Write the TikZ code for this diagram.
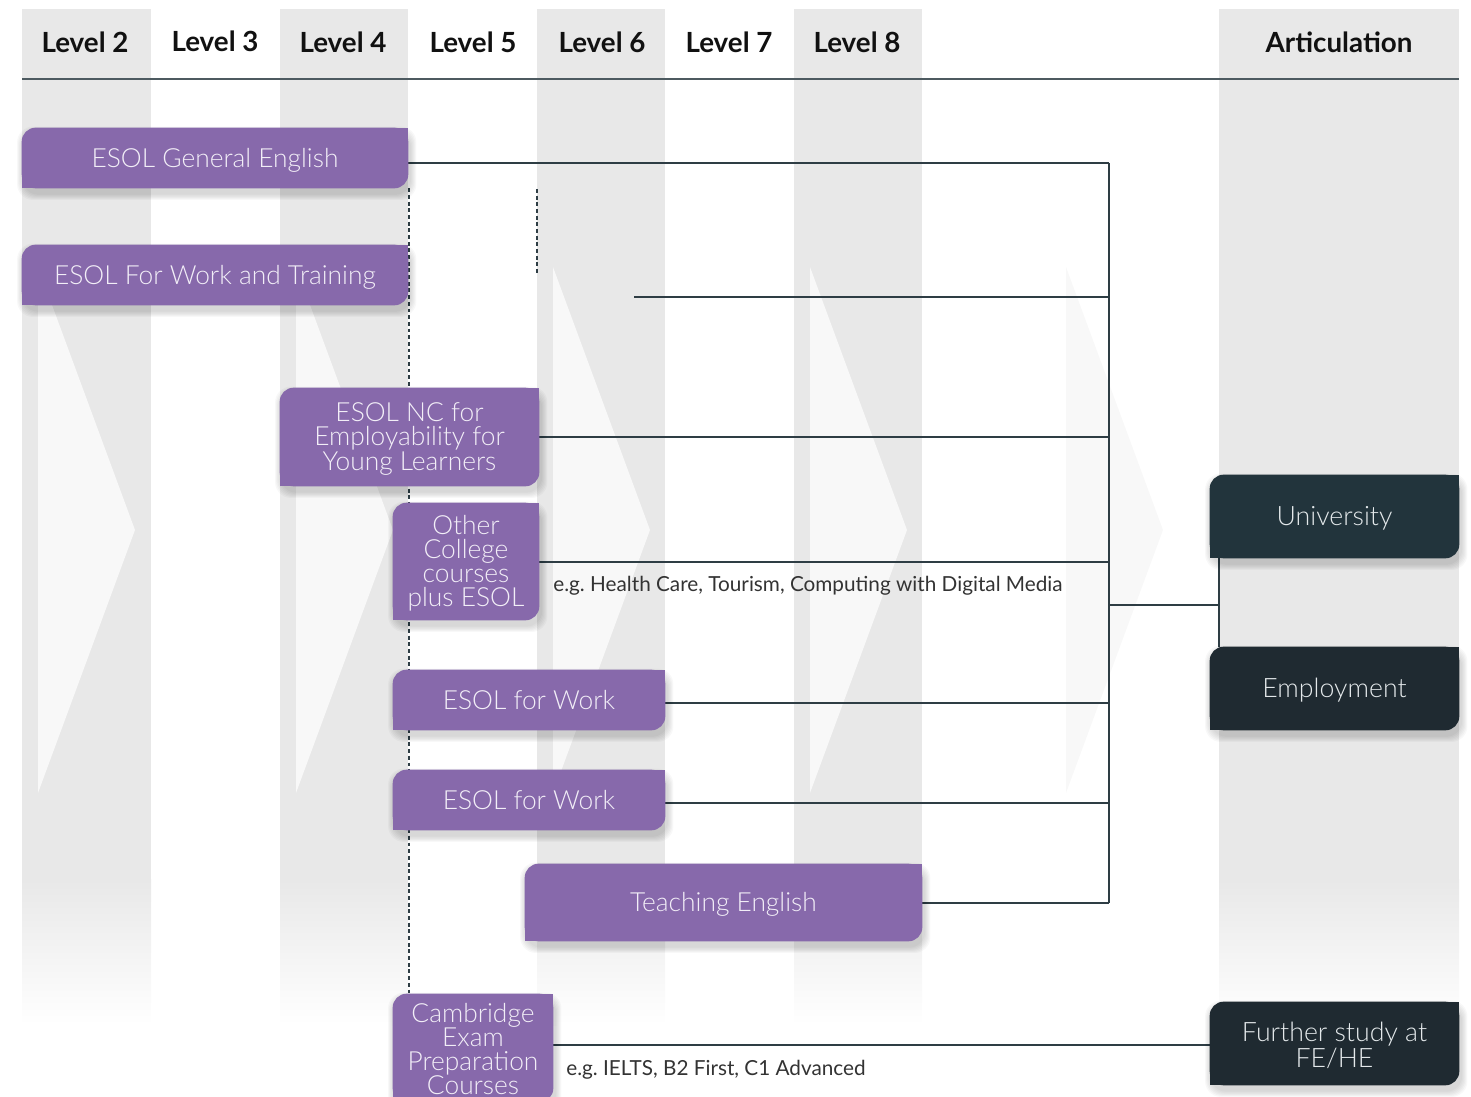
\documentclass[tikz,border=0pt]{standalone}
\usepackage{fontspec}
\setmainfont{Lato}
\newfontfamily\lightf{Lato Light}
\definecolor{purp}{HTML}{8769AB}
\definecolor{darkA}{HTML}{22343C}
\definecolor{darkB}{HTML}{1F2A31}
\definecolor{colgrey}{HTML}{E8E8E8}
\definecolor{chev}{HTML}{F8F8F8}
\definecolor{linec}{HTML}{2E3D44}
\definecolor{boxtxt}{HTML}{F2EEF7}
\definecolor{dboxtxt}{HTML}{E4E9EB}
\definecolor{hdrtxt}{HTML}{111111}
\definecolor{lbltxt}{HTML}{333333}
\pgfdeclarelayer{bg}
\pgfdeclarelayer{lines}
\pgfdeclarelayer{boxes}
\pgfsetlayers{bg,lines,boxes,main}
\newcommand\drawcbox[3][0pt]{%
  \foreach \s in {1,...,6}{\fill[black,opacity=0.028,rounded corners=9pt] ([shift={(-\s*0.6pt+1pt,\s*0.6pt-3pt+#1)}]#2.north west) rectangle ([shift={(\s*0.6pt+1pt,-\s*0.6pt-3pt+#1)}]#2.south east);}
  \fill[#3,rounded corners=8pt] ([yshift=#1]#2.north west) rectangle ([yshift=#1]#2.south east);
  \fill[#3] ([yshift=#1]#2.north east) rectangle ([xshift=-9pt,yshift=#1-9pt]#2.north east);
  \fill[#3] ([yshift=#1]#2.south west) rectangle ([xshift=9pt,yshift=#1+9pt]#2.south west);
}
\begin{document}
\frenchspacing
\begin{tikzpicture}[x=0.02cm,y=-0.02cm,
  hdr/.style={inner sep=0pt,text=hdrtxt,font=\fontsize{15.8}{18}\selectfont\bfseries},
  pbox/.style={inner sep=0pt,align=center,text=boxtxt,font=\lightf\fontsize{15}{13.7}\selectfont},
  onel/.style={text height=10.75pt,text depth=0pt},
  dbox/.style={pbox,text=dboxtxt,font=\lightf\fontsize{15.2}{13.7}\selectfont},
  lbl/.style={inner sep=0pt,anchor=base west,text=lbltxt,font=\fontsize{11.8}{13}\selectfont},
  conn/.style={draw=linec,line width=1.1pt},
  dashline/.style={draw=linec,line width=1.2pt,dash pattern=on 2.2pt off 1.6pt}]
\useasboundingbox (0,0) rectangle (1471,1097);

% ---------- background columns ----------
\begin{pgfonlayer}{bg}
\foreach \xa/\xb in {22/151,280/408,537/665,794/922,1219/1459}{
  \fill[colgrey] (\xa,9) rectangle (\xb,880);
  \shade[top color=colgrey,bottom color=white] (\xa,879) rectangle (\xb,1025);
}
\foreach \xa in {38,296,553,810,1066}{
  \fill[chev] (\xa,267) -- (\xa+97,530) -- (\xa,793) -- cycle;
}
\draw[linec!85,line width=0.6pt] (22,79) -- (1459,79);
\end{pgfonlayer}

% ---------- headers ----------
\node[hdr] (h2) at (85,42) {Level 2};
\node[hdr] (h3) at (215,41) {Level 3};
\node[hdr] (h4) at (343,42) {Level 4};
\node[hdr] (h5) at (473,42) {Level 5};
\node[hdr] (h6) at (602,42) {Level 6};
\node[hdr] (h7) at (729,42) {Level 7};
\node[hdr] (h8) at (857,42) {Level 8};
\node[hdr] (hart) at (1339,42) {Articulation};

% ---------- course boxes ----------
\node[pbox,onel,minimum width=7.72cm,minimum height=1.2cm] (b1) at (215,158) {ESOL General English};
\node[pbox,onel,minimum width=7.72cm,minimum height=1.2cm] (b2) at (215,275) {ESOL For Work and Training};
\node[pbox,minimum width=5.18cm,minimum height=1.96cm,yshift=-1.14pt] (b3) at (409.5,437) {ESOL NC for\\Employability for\\Young Learners};
\node[pbox,minimum width=2.92cm,minimum height=2.34cm,yshift=-1.14pt] (b4) at (466,561.5) {Other\\College\\courses\\plus ESOL};
\node[pbox,onel,minimum width=5.44cm,minimum height=1.2cm] (b5) at (529,700) {ESOL for Work};
\node[pbox,onel,minimum width=5.44cm,minimum height=1.2cm] (b6) at (529,800) {ESOL for Work};
\node[pbox,onel,minimum width=7.94cm,minimum height=1.54cm] (b7) at (723.5,902.5) {Teaching English};
\node[pbox,minimum width=3.2cm,minimum height=2.16cm,yshift=-0.57pt] (cam) at (473,1048) {Cambridge\\Exam\\Preparation\\Courses};

% ---------- articulation boxes ----------
\node[dbox,onel,minimum width=4.98cm,minimum height=1.66cm] (uni) at (1334.5,516.5) {University};
\node[dbox,onel,minimum width=4.98cm,minimum height=1.66cm] (emp) at (1334.5,688.5) {Employment};
\node[dbox,minimum width=4.98cm,minimum height=1.66cm,yshift=-1.14pt] (fe) at (1334.5,1043.5) {Further study at\\FE/HE};

% ---------- labels ----------
\node[lbl] (l1) at (553,592) {e.g. Health Care, Tourism, Computing with Digital Media};
\node[lbl] (l2) at (566,1075) {e.g. IELTS, B2 First, C1 Advanced};

% ---------- box fills ----------
\begin{pgfonlayer}{boxes}
\drawcbox{b1}{purp}
\drawcbox{b2}{purp}
\drawcbox[1.14pt]{b3}{purp}
\drawcbox[1.14pt]{b4}{purp}
\drawcbox{b5}{purp}
\drawcbox{b6}{purp}
\drawcbox{b7}{purp}
\drawcbox[0.57pt]{cam}{purp}
\drawcbox{uni}{darkA}
\drawcbox{emp}{darkB}
\drawcbox[1.14pt]{fe}{darkB}
\end{pgfonlayer}

% ---------- connectors ----------
\begin{pgfonlayer}{lines}
\coordinate (busx) at (1109,0);
\coordinate (vx) at (1219,0);
\coordinate (dx) at (409,0);
\path (b1.east) ++(0,5) coordinate (t1);
\path (b3.east) ++(0,-2) coordinate (t3);
\path (b4.east) ++(0,-1.5) coordinate (t4);
\path (b5.east) ++(0,3) coordinate (t5);
\path (b6.east) ++(0,3) coordinate (t6);
\path (b7.east) ++(0,0.5) coordinate (t7);
\path (fe.west) ++(0,-0.5) coordinate (tf);
\coordinate (f1) at (634,297);
\coordinate (j) at (1109,605);
\coordinate (d2a) at (537,189);
\coordinate (d2b) at (537,275);
\draw[conn] (t1) -- (t1 -| busx);
\draw[conn] (f1) -- (f1 -| busx);
\draw[conn] (t3) -- (t3 -| busx);
\draw[conn] (t4) -- (t4 -| busx);
\draw[conn] (t5) -- (t5 -| busx);
\draw[conn] (t6) -- (t6 -| busx);
\draw[conn] (t7) -- (t7 -| busx);
\draw[conn] (t1 -| busx) -- (t7 -| busx);
\draw[conn] (j) -- (j -| vx);
\draw[conn] (uni.south -| vx) -- (emp.north -| vx);
\draw[conn] (cam.east |- tf) -- (tf);
\draw[dashline] (b1.south -| dx) -- (cam.north -| dx);
\draw[dashline] (d2a) -- (d2b);
\end{pgfonlayer}
\end{tikzpicture}
\end{document}
